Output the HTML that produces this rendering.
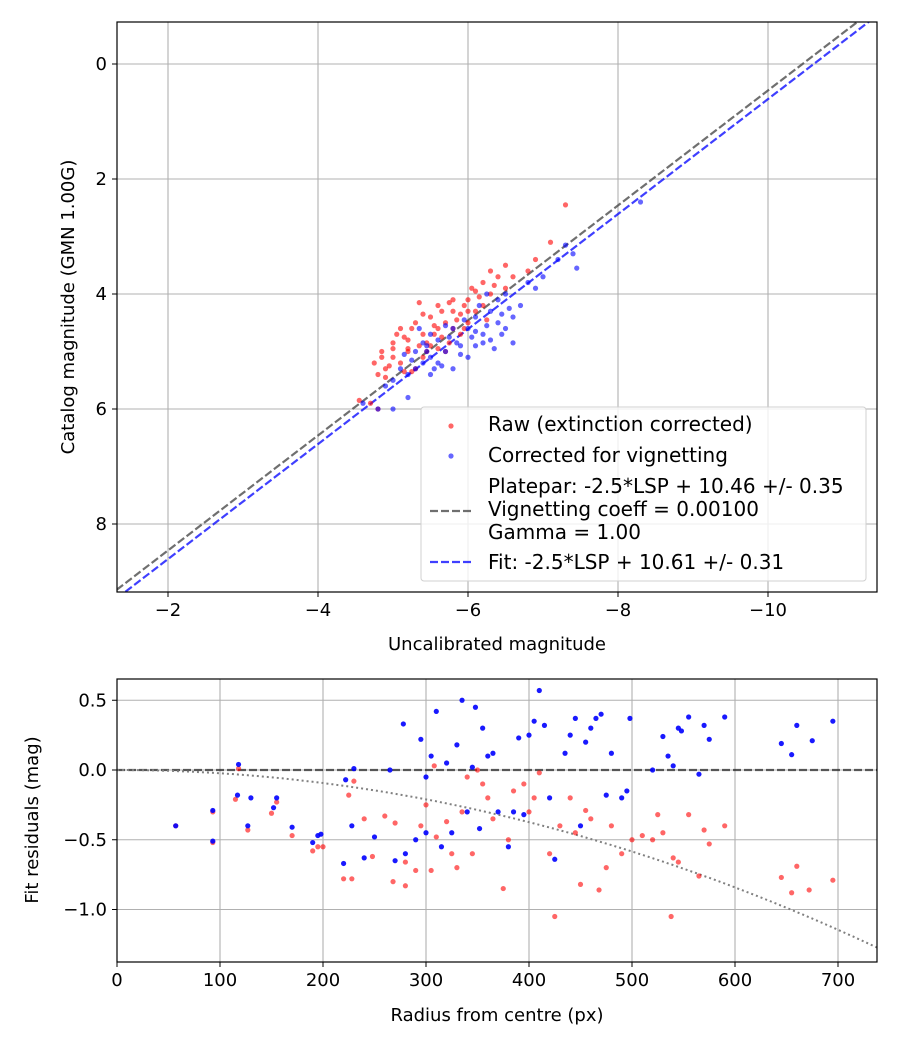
<!DOCTYPE html>
<html><head><meta charset="utf-8"><style>
body{margin:0;background:#fff}
svg{font-family:"DejaVu Sans","Liberation Sans",sans-serif}
</style></head><body>
<svg id="fig" width="900" height="1050" xmlns="http://www.w3.org/2000/svg">
<rect width="900" height="1050" fill="#fff"/>
<g id="top"></g><g id="bot"></g>
</svg>
<script>
// ---- top chart data ----
const topRedX=[-4.55,-4.7,-4.8,-4.8,-4.85,-4.9,-5.0,-5.0,-5.1,-5.1,-5.2,-5.2,-5.3,-5.3,-5.4,-5.4,-5.5,-5.5,-5.6,-5.6,-5.7,-5.7,-5.8,-5.8,-5.9,-5.9,-6.0,-6.0,-6.1,-6.1,-6.2,-6.2,-6.3,-6.3,-6.4,-6.5,-6.5,-6.6,-6.8,-6.9,-7.1,-7.3,-5.25,-5.45,-5.65,-6.05,-4.95,-5.35,-4.75,-4.9,-5.05,-5.15,-5.25,-5.35,-5.45,-5.55,-5.65,-5.75,-5.85,-5.95,-6.15,-6.25,-6.35,-4.85,-5.0,-5.2,-5.4,-5.6,-5.8,-6.0,-5.15,-5.55,-5.75,-5.95];
const topRedY=[5.85,5.9,6.0,5.4,5.0,5.3,5.1,4.95,5.2,4.6,4.8,5.0,4.5,5.3,4.7,5.1,4.4,4.9,4.2,4.6,4.5,5.0,4.3,4.1,4.7,4.35,4.1,4.5,3.95,4.3,3.8,4.2,3.6,4.0,3.7,3.5,3.9,3.7,3.6,3.4,3.1,2.45,5.35,4.85,4.75,3.9,5.25,4.15,5.2,5.45,4.7,5.35,4.6,4.9,5.0,4.55,4.3,4.85,4.45,4.6,4.05,4.45,3.85,5.1,4.85,4.95,4.35,4.95,4.6,4.3,4.75,4.7,4.15,4.2];
const topBlueX=[-4.6,-4.8,-5.0,-5.2,-5.0,-5.2,-5.3,-5.4,-5.5,-5.5,-5.6,-5.6,-5.7,-5.8,-5.8,-5.9,-6.0,-6.0,-6.1,-6.1,-6.2,-6.3,-6.3,-6.4,-6.4,-6.5,-6.5,-6.6,-6.7,-6.8,-6.9,-7.0,-7.2,-7.3,-7.4,-7.45,-8.3,-5.15,-5.35,-5.75,-6.15,-6.6,-5.45,-6.25,-4.9,-5.1,-5.25,-5.45,-5.65,-5.85,-6.05,-6.25,-6.45,-5.3,-5.5,-5.7,-5.9,-6.1,-6.35,-6.55,-5.55,-5.95,-6.2,-6.45,-5.4];
const topBlueY=[5.9,6.0,6.0,5.8,5.5,5.4,5.3,5.2,5.1,5.4,4.8,5.2,5.0,4.6,5.3,4.9,4.6,5.1,4.4,4.9,4.7,4.3,4.8,4.5,4.1,4.0,4.6,4.4,4.2,3.8,3.9,3.7,3.4,3.15,3.3,3.55,2.4,5.05,4.6,4.75,4.2,4.85,4.9,4.0,5.6,5.3,5.15,5.0,5.25,4.85,4.75,4.55,4.35,5.0,4.7,4.55,5.05,4.65,4.95,4.25,5.3,4.45,4.85,4.7,4.85];
const xTicksTop=[-2,-4,-6,-8,-10];
const yTicksTop=[0,2,4,6,8];
const zpPlatepar=10.46, zpFit=10.61;
// ---- bottom chart data ----
const botBlueR=[57,93,93,117,118,127,130,152,155,170,190,195,198,220,222,228,230,240,250,265,270,278,280,290,295,300,300,305,310,315,320,325,330,335,340,345,348,352,355,360,365,370,380,385,390,395,400,405,410,415,420,425,435,440,445,450,455,460,465,470,475,480,490,495,498,520,530,535,540,545,548,555,565,570,575,590,645,655,660,675,695];
const botBlueV=[-0.40,-0.29,-0.51,-0.18,0.04,-0.40,-0.20,-0.27,-0.20,-0.41,-0.52,-0.47,-0.46,-0.67,-0.07,-0.40,0.01,-0.63,-0.48,0.00,-0.65,0.33,-0.60,-0.50,0.22,-0.45,-0.05,0.10,0.42,-0.55,0.05,-0.45,0.18,0.50,-0.30,0.02,0.45,-0.42,0.30,0.10,0.12,-0.30,-0.55,-0.30,0.23,-0.32,0.25,0.35,0.57,0.32,-0.20,-0.64,0.12,0.25,0.37,-0.40,0.20,0.30,0.37,0.40,-0.18,0.12,-0.20,-0.15,0.37,0.00,0.24,0.10,0.03,0.30,0.28,0.38,-0.03,0.32,0.22,0.38,0.19,0.11,0.32,0.21,0.35];
const botRedR=[57,93,93,115,118,127,150,155,170,190,195,200,220,225,228,230,240,248,260,268,270,280,280,290,295,300,305,308,310,320,325,330,335,340,345,350,355,360,365,375,380,385,395,400,405,410,420,425,430,440,445,450,455,460,468,475,480,490,500,510,520,525,530,538,540,545,555,565,570,575,590,645,655,660,672,695];
const botRedV=[-0.40,-0.52,-0.30,-0.21,0.01,-0.43,-0.31,-0.23,-0.47,-0.58,-0.55,-0.55,-0.78,-0.18,-0.78,-0.08,-0.35,-0.62,-0.33,-0.80,-0.38,-0.83,-0.66,-0.72,-0.40,-0.25,-0.72,0.03,-0.48,-0.37,-0.60,-0.70,-0.30,-0.05,-0.60,0.00,-0.10,-0.20,-0.35,-0.85,-0.50,-0.15,-0.10,-0.30,-0.20,-0.02,-0.60,-1.05,-0.40,-0.20,-0.45,-0.82,-0.29,-0.35,-0.86,-0.70,-0.40,-0.60,-0.50,-0.47,-0.50,-0.32,-0.45,-1.05,-0.63,-0.66,-0.32,-0.76,-0.43,-0.53,-0.40,-0.77,-0.88,-0.69,-0.86,-0.79];
const xTicksBot=[0,100,200,300,400,500,600,700];
const yTicksBot=[0.5,0.0,-0.5,-1.0];
const yTickLabelsBot=["0.5","0.0","−0.5","−1.0"];
const vignEdgeR=737, vignEdgeMag=-1.27;

const NS="http://www.w3.org/2000/svg";
function mk(parent,tag,attrs,text){const e=document.createElementNS(NS,tag);for(const k in attrs)e.setAttribute(k,attrs[k]);if(text!==undefined)e.textContent=text;parent.appendChild(e);return e;}
const FT=18, FL=20;

// ===== TOP =====
const T=document.getElementById('top');
const tL=117,tR=877,tT=22,tB=592;
const txS=v=>168+(-2-v)*75;
const tyS=v=>64+v*57.5;


mk(T,'defs',{}).innerHTML='<clipPath id="ct"><rect x="117" y="22" width="760" height="570"/></clipPath><clipPath id="cb"><rect x="117" y="679" width="760" height="283"/></clipPath>';
xTicksTop.forEach(v=>{const x=txS(v);
 const g=mk(T,'line',{x1:x,x2:x,y1:tT,y2:tB,stroke:'#b0b0b0','stroke-width':1.1});
 
 mk(T,'line',{x1:x,x2:x,y1:tB,y2:tB+5,stroke:'#000'});
 const t=mk(T,'text',{x:x,y:tB+24,'text-anchor':'middle','font-size':FT},'−'+Math.abs(v));
 });
yTicksTop.forEach(v=>{const y=tyS(v);
 const g=mk(T,'line',{x1:tL,x2:tR,y1:y,y2:y,stroke:'#b0b0b0','stroke-width':1.1});
 
 mk(T,'line',{x1:tL-5,x2:tL,y1:y,y2:y,stroke:'#000'});
 const t=mk(T,'text',{x:tL-10,y:y+6,'text-anchor':'end','font-size':FT},String(v));
 });
const tc=mk(T,'g',{'clip-path':'url(#ct)'});
function fitLine(zp,col,name){const a=-1.2,b=-11.6;
 const l=mk(tc,'line',{x1:txS(a),y1:tyS(a+zp),x2:txS(b),y2:tyS(b+zp),stroke:col,'stroke-width':2.2,'stroke-dasharray':'8,3',opacity:0.75});
 }
fitLine(zpPlatepar,'#404040','platepar-line');
fitLine(zpFit,'#0000ff','fit-line');
topRedX.forEach((v,i)=>{const c=mk(tc,'circle',{cx:txS(v),cy:tyS(topRedY[i]),r:2.6,fill:'#ff0000','fill-opacity':0.6});
 });
topBlueX.forEach((v,i)=>{const c=mk(tc,'circle',{cx:txS(v),cy:tyS(topBlueY[i]),r:2.6,fill:'#0000ff','fill-opacity':0.6});
 });
mk(T,'rect',{x:tL,y:tT,width:tR-tL,height:tB-tT,fill:'none',stroke:'#000','stroke-width':1.2});
const xt=mk(T,'text',{x:497,y:650,'text-anchor':'middle','font-size':FT},'Uncalibrated magnitude');

const yt=mk(T,'text',{x:0,y:0,'text-anchor':'middle','font-size':FT,transform:'translate(74,307) rotate(-90)'},'Catalog magnitude (GMN 1.00G)');

// legend
const lg=mk(T,'g',{});

mk(lg,'rect',{x:421,y:407,width:445,height:174,rx:3,fill:'#fff','fill-opacity':0.8,stroke:'#d0d0d0'});
mk(lg,'circle',{cx:451,cy:426,r:2.6,fill:'#ff0000','fill-opacity':0.6});
mk(lg,'text',{x:488,y:431,'font-size':FL},'Raw (extinction corrected)');
mk(lg,'circle',{cx:451,cy:456,r:2.6,fill:'#0000ff','fill-opacity':0.6});
mk(lg,'text',{x:488,y:462,'font-size':FL},'Corrected for vignetting');
mk(lg,'line',{x1:430,x2:471,y1:511,y2:511,stroke:'#404040','stroke-width':2.2,'stroke-dasharray':'8,3',opacity:0.75});
mk(lg,'text',{x:488,y:493,'font-size':FL},'Platepar: -2.5*LSP + 10.46 +/- 0.35');
mk(lg,'text',{x:488,y:516,'font-size':FL},'Vignetting coeff = 0.00100');
mk(lg,'text',{x:488,y:539,'font-size':FL},'Gamma = 1.00');
mk(lg,'line',{x1:430,x2:471,y1:562,y2:562,stroke:'#0000ff','stroke-width':2.2,'stroke-dasharray':'8,3',opacity:0.75});
mk(lg,'text',{x:488,y:569,'font-size':FL},'Fit: -2.5*LSP + 10.61 +/- 0.31');

// ===== BOTTOM =====
const B=document.getElementById('bot');


const bL=117,bR=877,bT=679,bB=962;
const bxS=v=>117+v*1.03;
const byS=v=>770-v*139.5;
xTicksBot.forEach(v=>{const x=bxS(v);
 if(v>0){const g=mk(B,'line',{x1:x,x2:x,y1:bT,y2:bB,stroke:'#b0b0b0','stroke-width':1.1});
 }
 mk(B,'line',{x1:x,x2:x,y1:bB,y2:bB+5,stroke:'#000'});
 const t=mk(B,'text',{x:x,y:bB+24,'text-anchor':'middle','font-size':FT},String(v));
 });
yTicksBot.forEach((v,i)=>{const y=byS(v);
 const g=mk(B,'line',{x1:bL,x2:bR,y1:y,y2:y,stroke:'#b0b0b0','stroke-width':1.1});
 
 mk(B,'line',{x1:bL-5,x2:bL,y1:y,y2:y,stroke:'#000'});
 const t=mk(B,'text',{x:bL-10,y:y+6,'text-anchor':'end','font-size':FT},yTickLabelsBot[i]);
 });
const bc=mk(B,'g',{'clip-path':'url(#cb)'});
const z=mk(bc,'line',{x1:bL,x2:bR,y1:byS(0),y2:byS(0),stroke:'#000','stroke-width':2.2,'stroke-dasharray':'8,3',opacity:0.6});

let d='';for(let r=0;r<=740;r+=5){const m=vignEdgeMag*Math.pow(r/vignEdgeR,2);d+=(r?'L':'M')+bxS(r).toFixed(1)+','+byS(m).toFixed(1);}
const vc=mk(bc,'path',{d:d,fill:'none',stroke:'#808080','stroke-width':2,'stroke-dasharray':'2,3'});

botRedR.forEach((r,i)=>{const c=mk(bc,'circle',{cx:bxS(r),cy:byS(botRedV[i]),r:2.6,fill:'#ff0000','fill-opacity':0.6});
 });
botBlueR.forEach((r,i)=>{const c=mk(bc,'circle',{cx:bxS(r),cy:byS(botBlueV[i]),r:2.6,fill:'#0000ff','fill-opacity':0.9});
 });
mk(B,'rect',{x:bL,y:bT,width:bR-bL,height:bB-bT,fill:'none',stroke:'#000','stroke-width':1.2});
const bx=mk(B,'text',{x:497,y:1021,'text-anchor':'middle','font-size':FT},'Radius from centre (px)');

const by=mk(B,'text',{x:0,y:0,'text-anchor':'middle','font-size':FT,transform:'translate(38,820) rotate(-90)'},'Fit residuals (mag)');

</script>
</body></html>
